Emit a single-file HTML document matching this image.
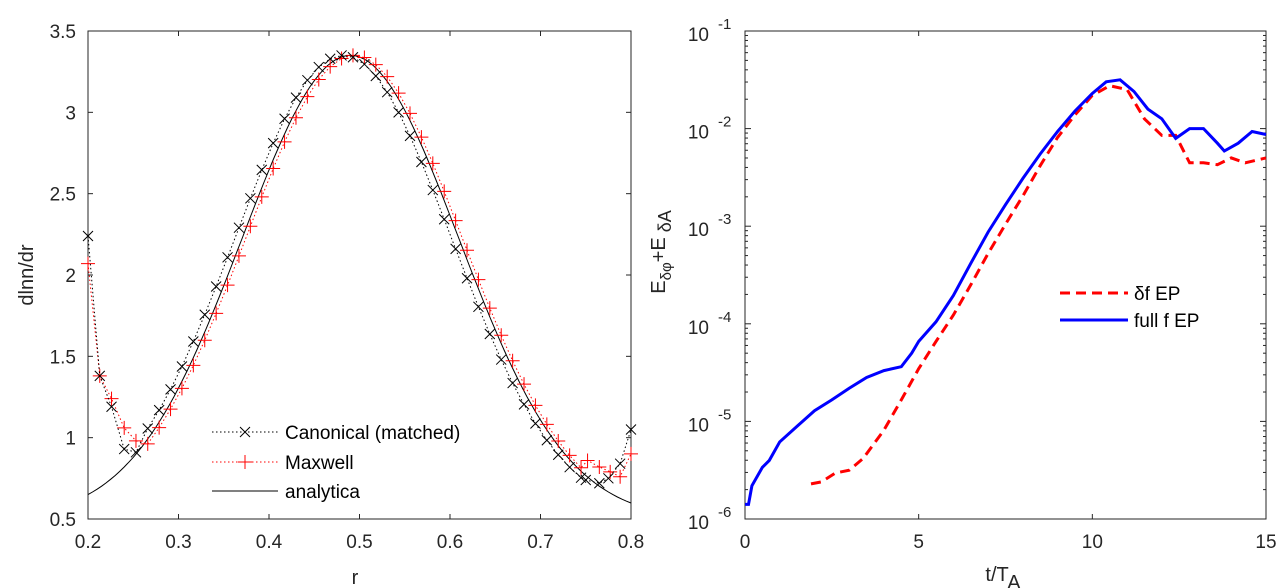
<!DOCTYPE html>
<html><head><meta charset="utf-8"><style>
html,body{margin:0;padding:0;background:#fff;}
svg{display:block;font-family:"Liberation Sans",sans-serif;}
</style></head><body>
<svg id="s" width="1284" height="588" xmlns="http://www.w3.org/2000/svg"></svg>
<script>
const s=document.getElementById('s');let h='';
const FS=19;
const LX0=88,LX1=631,Y0=31,Y1=519;
const lx=r=>LX0+(r-0.2)/0.6*(LX1-LX0), ly=v=>Y0+(3.5-v)/3*(Y1-Y0);
const an=r=>0.5+2.85*Math.exp(-Math.pow((r-0.49)/0.169,2));
h+=`<rect x="${LX0}" y="${Y0}" width="${LX1-LX0}" height="${Y1-Y0}" fill="none" stroke="#262626" stroke-width="1"/>`;
for(let i=0;i<=6;i++){const r=0.2+i*0.1,x=lx(r);h+=`<line x1="${x}" y1="${Y1}" x2="${x}" y2="${Y1-5}" stroke="#262626"/><line x1="${x}" y1="${Y0}" x2="${x}" y2="${Y0+5}" stroke="#262626"/><text x="${x}" y="548" font-size="${FS}" text-anchor="middle" fill="#262626">${r.toFixed(1)}</text>`;}
for(let i=0;i<=6;i++){const v=0.5+i*0.5,y=ly(v);h+=`<line x1="${LX0}" y1="${y}" x2="${LX0+5}" y2="${y}" stroke="#262626"/><line x1="${LX1}" y1="${y}" x2="${LX1-5}" y2="${y}" stroke="#262626"/><text x="${LX0-12}" y="${y+7}" font-size="${FS}" text-anchor="end" fill="#262626">${v%1==0?v.toFixed(0):v.toFixed(1)}</text>`;}
h+=`<text x="355" y="584" font-size="20" text-anchor="middle" fill="#262626">r</text>`;
h+=`<text transform="translate(33,275) rotate(-90)" font-size="20" text-anchor="middle" fill="#262626">dlnn/dr</text>`;
let p='';for(let r=0.2;r<=0.8001;r+=0.005)p+=`${lx(r).toFixed(1)},${ly(an(r)).toFixed(1)} `;
h+=`<polyline points="${p}" fill="none" stroke="#000" stroke-width="1"/>`;
function series(shift,start,end){const pts=start.slice();for(let r=0.266;r<0.745;r+=0.0126){pts.push([r,an(r-shift)]);}return pts.concat(end);}
const can=series(-0.008,[[0.2,2.24],[0.213,1.38],[0.226,1.19],[0.24,0.93],[0.253,0.91]],[[0.75,0.74],[0.765,0.72],[0.775,0.75],[0.788,0.84],[0.8,1.05]]);
const max=series(0.004,[[0.2,2.07],[0.213,1.38],[0.226,1.24],[0.24,1.06],[0.253,0.98]],[[0.752,0.86],[0.765,0.82],[0.777,0.79],[0.788,0.76],[0.8,0.90]]);
const mk=(pts,col,type)=>{let q=pts.map(a=>`${lx(a[0]).toFixed(1)},${ly(a[1]).toFixed(1)}`).join(' ');
let o=`<polyline points="${q}" fill="none" stroke="${col}" stroke-width="1" stroke-dasharray="1.5,2.5"/>`;
pts.forEach(a=>{const x=lx(a[0]),y=ly(a[1]);if(type=='x')o+=`<path d="M${x-5},${y-5}L${x+5},${y+5}M${x-5},${y+5}L${x+5},${y-5}" stroke="${col}" stroke-width="1"/>`;else o+=`<path d="M${x-7},${y}H${x+7}M${x},${y-7}V${y+7}" stroke="${col}" stroke-width="1"/>`;});return o;};
h+=mk(max,'#ff0000','+');h+=mk(can,'#000','x');
h+=`<line x1="212" y1="432" x2="278" y2="432" stroke="#000" stroke-dasharray="1.5,2.5"/><path d="M240,427L250,437M240,437L250,427" stroke="#000"/><text x="285" y="439" font-size="${FS}" fill="#000">Canonical (matched)</text>`;
h+=`<line x1="212" y1="462" x2="278" y2="462" stroke="#f00" stroke-dasharray="1.5,2.5"/><path d="M238,462H252M245,455V469" stroke="#f00"/><text x="285" y="469" font-size="${FS}" fill="#000">Maxwell</text>`;
h+=`<line x1="212" y1="491" x2="278" y2="491" stroke="#000"/><text x="285" y="498" font-size="${FS}" fill="#000">analytica</text>`;
const RX0=745,RX1=1266;
const rx=t=>RX0+t/15*(RX1-RX0), ry=l=>Y0+(-1-l)/5*(Y1-Y0);
h+=`<rect x="${RX0}" y="${Y0}" width="${RX1-RX0}" height="${Y1-Y0}" fill="none" stroke="#262626"/>`;
[0,5,10,15].forEach(t=>{const x=rx(t);h+=`<line x1="${x}" y1="${Y1}" x2="${x}" y2="${Y1-5}" stroke="#262626"/><line x1="${x}" y1="${Y0}" x2="${x}" y2="${Y0+5}" stroke="#262626"/><text x="${x}" y="548" font-size="${FS}" text-anchor="middle" fill="#262626">${t}</text>`;});
for(let e=-6;e<=-1;e++){const y=ry(e);h+=`<line x1="${RX0}" y1="${y}" x2="${RX0+6}" y2="${y}" stroke="#262626"/><line x1="${RX1}" y1="${y}" x2="${RX1-6}" y2="${y}" stroke="#262626"/><text x="709" y="${y+10}" font-size="${FS}" text-anchor="end" fill="#262626">10</text><text x="718" y="${y-2}" font-size="15" fill="#262626">${e}</text>`;
if(e<-1)for(let m=2;m<=9;m++){const yy=ry(e+Math.log10(m));h+=`<line x1="${RX0}" y1="${yy}" x2="${RX0+3}" y2="${yy}" stroke="#262626"/><line x1="${RX1}" y1="${yy}" x2="${RX1-3}" y2="${yy}" stroke="#262626"/>`;}}
h+=`<text x="1003" y="581" font-size="20" text-anchor="middle" fill="#262626">t/T<tspan dy="8">A</tspan></text>`;
h+=`<text transform="translate(665,252) rotate(-90)" font-size="20" text-anchor="middle" fill="#262626">E<tspan font-size="15" dy="6">δφ</tspan><tspan dy="-6">+E</tspan><tspan font-size="18" dy="6"> δA</tspan></text>`;
const blue=[[0,-5.85],[0.1,-5.85],[0.2,-5.66],[0.5,-5.47],[0.7,-5.4],[1,-5.21],[1.5,-5.05],[2,-4.89],[2.5,-4.78],[3,-4.66],[3.5,-4.55],[4,-4.48],[4.5,-4.44],[4.8,-4.3],[5,-4.18],[5.5,-3.98],[6,-3.71],[6.5,-3.38],[7,-3.06],[7.5,-2.78],[8,-2.51],[8.5,-2.26],[9,-2.03],[9.5,-1.82],[10,-1.64],[10.4,-1.52],[10.8,-1.5],[11.2,-1.62],[11.6,-1.8],[12,-1.9],[12.4,-2.1],[12.8,-2.0],[13.2,-2.0],[13.6,-2.15],[13.8,-2.23],[14.2,-2.15],[14.6,-2.03],[15,-2.06]];
const red=[[1.9,-5.64],[2.2,-5.62],[2.6,-5.53],[3.0,-5.5],[3.4,-5.38],[4,-5.09],[4.5,-4.78],[5,-4.46],[5.5,-4.18],[6,-3.91],[6.5,-3.6],[7,-3.28],[7.5,-2.98],[8,-2.69],[8.5,-2.38],[9,-2.09],[9.5,-1.86],[10,-1.66],[10.5,-1.56],[11,-1.6],[11.5,-1.9],[12,-2.07],[12.4,-2.07],[12.8,-2.35],[13.2,-2.35],[13.6,-2.37],[14,-2.3],[14.4,-2.35],[15,-2.3]];
const pl=a=>a.map(q=>`${rx(q[0]).toFixed(1)},${ry(q[1]).toFixed(1)}`).join(' ');
h+=`<polyline points="${pl(red)}" fill="none" stroke="#ff0000" stroke-width="3" stroke-dasharray="10,6"/>`;
h+=`<polyline points="${pl(blue)}" fill="none" stroke="#0000ff" stroke-width="3"/>`;
h+=`<line x1="1060" y1="293" x2="1128" y2="293" stroke="#f00" stroke-width="3" stroke-dasharray="10,6"/><text x="1134" y="300" font-size="${FS}" fill="#000">δf  EP</text>`;
h+=`<line x1="1060" y1="320" x2="1128" y2="320" stroke="#00f" stroke-width="3"/><text x="1134" y="327" font-size="${FS}" fill="#000">full f EP</text>`;
s.innerHTML=h;
</script>
</body></html>
